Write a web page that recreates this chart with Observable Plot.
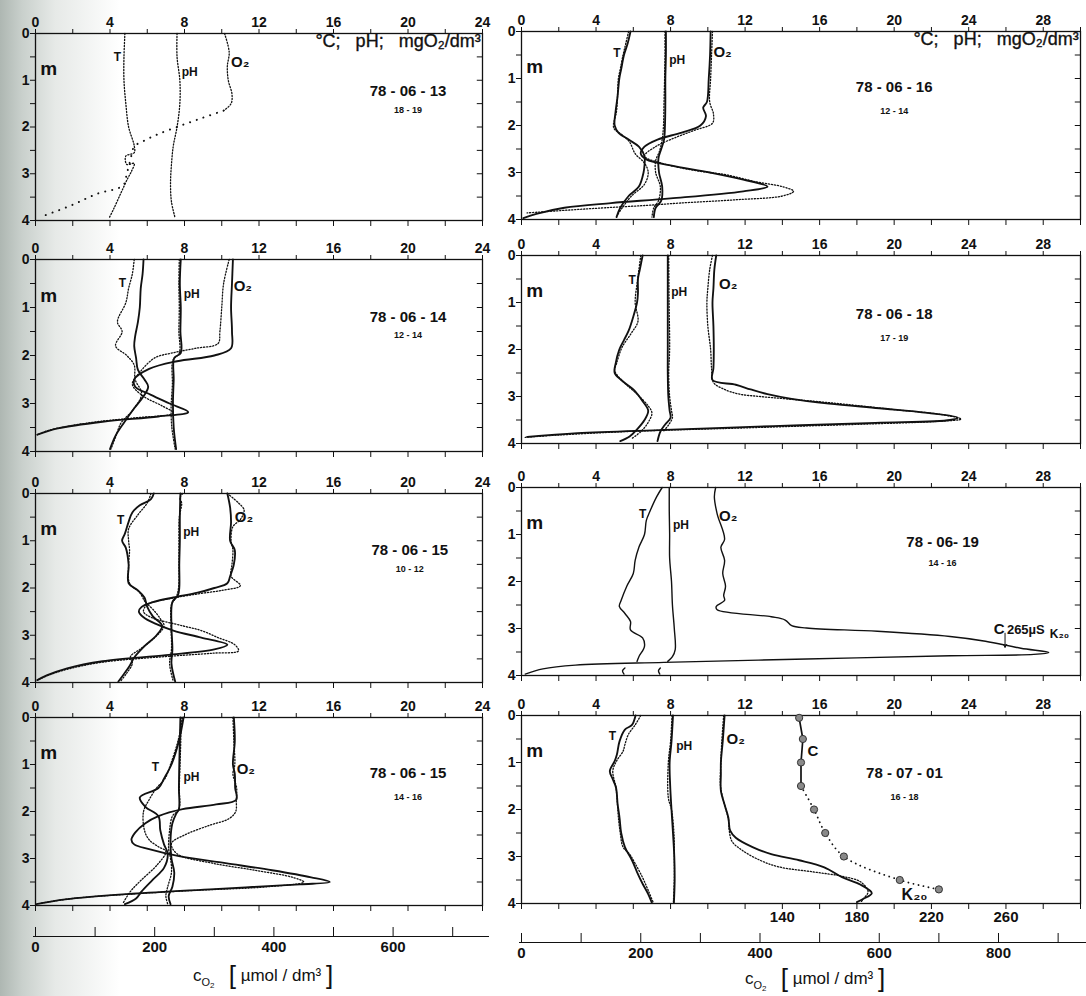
<!DOCTYPE html>
<html><head><meta charset="utf-8">
<script src="https://cdn.jsdelivr.net/npm/d3@7"></script>
<script src="https://cdn.jsdelivr.net/npm/@observablehq/plot@0.6"></script>
<style>
body{margin:0;background:#fff;}
#page{position:relative;width:1086px;height:996px;overflow:hidden;background:#fff;font-family:"Liberation Sans",Arial,sans-serif;}
#shade{position:absolute;left:0;top:0;width:140px;height:996px;background:linear-gradient(to right,#aeb7b2 0px,#c9d0cc 22px,#e6e9e7 55px,rgba(255,255,255,0) 120px);}
.ttl{position:absolute;font-size:17px;color:#111;white-space:nowrap;line-height:26px;height:30px;}
.ttl sub{font-size:11px;vertical-align:-5px;line-height:0;}
.ttl sub sub{font-size:8px;vertical-align:-2px;}
.ttl .br{font-size:26px;font-weight:300;vertical-align:-3px;line-height:0;}
</style></head>
<body><div id="page"><div id="shade"></div></div>
<script>
// ---------- data: [value (°C / pH / mg O2 dm-3), depth (m)] ----------
const L1_T_dot = [[4.8,0],[4.75,0.5],[4.75,1],[4.85,1.5],[5.0,2.0],[5.3,2.4],[5.3,2.55],[4.85,2.62],[4.9,2.8],[5.3,2.78],[5.15,2.95],[4.95,3.1],[4.6,3.4],[4.2,3.75],[3.95,3.95]];
const L1_pH_dot = [[7.6,0],[7.6,0.5],[7.75,1],[7.75,1.5],[7.6,2],[7.4,2.4],[7.3,2.8],[7.25,3.2],[7.3,3.6],[7.5,3.95]];
const L1_O2_dot = [[10.15,0],[10.4,0.4],[10.3,0.7],[10.35,1.0],[10.55,1.3],[10.5,1.5],[10.1,1.65]];
const L1_O2_sparse = [[10.1,1.65],[9.0,1.8],[7.8,1.97],[6.6,2.15],[5.8,2.3],[5.3,2.42],[5.1,2.7],[4.9,3.0],[4.7,3.25],[3.3,3.43],[1.9,3.68],[0.3,3.92]];

const L2_T = [[5.8,0],[5.75,0.3],[5.65,0.6],[5.6,1.0],[5.5,1.3],[5.35,1.6],[5.3,1.8],[5.4,2.05],[5.5,2.3],[5.85,2.5],[6.05,2.65],[5.8,2.85],[5.3,3.1],[4.75,3.4],[4.3,3.67],[4.0,3.95]];
const L2_T_dot = [[5.3,0],[5.2,0.3],[5.0,0.6],[4.85,0.9],[4.4,1.3],[4.65,1.5],[4.3,1.8],[4.9,2.0],[5.3,2.2],[5.35,2.5],[5.7,2.8],[5.2,3.15],[4.6,3.4],[4.3,3.7],[4.05,3.95]];
const L2_pH = [[7.8,0],[7.75,0.5],[7.8,1.0],[7.78,1.5],[7.8,1.95],[7.45,2.05],[7.42,2.5],[7.38,3.0],[7.42,3.5],[7.55,3.95]];
const L2_pH_dot = [[7.72,0],[7.7,0.5],[7.72,1.0],[7.7,1.5],[7.72,1.95],[7.38,2.1],[7.35,2.6],[7.28,3.1],[7.32,3.5],[7.5,3.95]];
const L2_O2 = [[10.6,0],[10.55,0.5],[10.5,1.0],[10.55,1.5],[10.5,1.85],[9.6,2.0],[7.6,2.12],[6.1,2.28],[5.3,2.5],[5.35,2.65],[6.2,2.82],[7.2,3.0],[8.2,3.18],[6.6,3.27],[3.6,3.38],[1.2,3.52],[0.1,3.65]];
const L2_O2_dot = [[10.4,0],[10.1,0.5],[10.0,1.0],[9.9,1.5],[9.8,1.75],[8.6,1.85],[7.3,1.95],[6.4,2.05],[5.6,2.35],[5.2,2.6],[5.8,2.85],[6.8,3.05],[7.4,3.2],[5.3,3.3],[3.3,3.38],[1.8,3.47],[0.7,3.56],[0.1,3.65]];

const L3_T = [[6.35,0],[6.2,0.12],[5.6,0.25],[5.2,0.4],[5.0,0.6],[4.8,0.85],[4.65,1.0],[4.85,1.15],[5.0,1.5],[5.0,1.9],[5.5,2.05],[5.85,2.2],[6.0,2.4],[6.3,2.6],[6.8,2.8],[6.5,3.0],[5.8,3.25],[5.3,3.47],[5.05,3.65],[4.75,3.82],[4.45,3.98]];
const L3_T_dot = [[6.2,0],[6.0,0.2],[5.5,0.45],[5.0,0.75],[5.0,1.0],[5.05,1.2],[5.0,1.5],[5.05,1.9],[5.6,2.1],[5.9,2.3],[6.3,2.45],[6.7,2.65],[6.9,2.8],[6.4,3.05],[5.6,3.3],[5.1,3.45],[5.2,3.6],[4.9,3.8],[4.55,3.98]];
const L3_pH = [[7.78,0],[7.75,0.5],[7.75,1.0],[7.72,1.5],[7.72,2.0],[7.65,2.15],[7.35,2.3],[7.3,2.8],[7.35,3.3],[7.3,3.6],[7.5,3.98]];
const L3_pH_dot = [[7.9,0],[7.75,0.1],[7.85,0.2],[7.72,0.5],[7.7,1.0],[7.7,1.5],[7.68,2.0],[7.55,2.2],[7.3,2.35],[7.28,2.8],[7.3,3.3],[7.2,3.6],[7.4,3.98]];
const L3_O2 = [[10.3,0],[10.45,0.3],[10.5,0.6],[10.45,1.0],[10.7,1.2],[10.65,1.5],[10.45,1.75],[10.3,1.9],[9.6,2.0],[8.7,2.1],[7.4,2.2],[6.3,2.3],[5.7,2.4],[5.55,2.5],[5.8,2.62],[6.4,2.75],[7.4,2.9],[8.9,3.05],[10.3,3.2],[9.6,3.3],[7.0,3.42],[3.6,3.55],[1.7,3.7],[0.6,3.85],[0.1,3.95]];
const L3_O2_dot = [[10.3,0],[10.9,0.2],[11.2,0.35],[11.0,0.55],[10.6,0.7],[10.5,1.0],[10.6,1.2],[10.55,1.5],[10.5,1.75],[11.0,1.95],[10.0,2.05],[8.8,2.12],[7.3,2.22],[6.0,2.35],[5.8,2.5],[6.2,2.62],[7.9,2.8],[8.9,2.9],[9.8,3.05],[10.7,3.2],[10.9,3.33],[9.5,3.38],[7.0,3.45],[3.6,3.57],[1.7,3.72],[0.6,3.86],[0.1,3.95]];

const L4_T = [[7.95,0],[7.7,0.5],[7.3,1.0],[6.9,1.3],[6.6,1.5],[5.6,1.7],[5.9,1.9],[6.6,2.1],[6.7,2.4],[6.9,2.7],[7.1,2.9],[6.9,3.2],[6.3,3.45],[5.7,3.7],[5.4,3.85],[4.8,3.97]];
const L4_T_dot = [[7.9,0],[7.65,0.5],[7.25,1.0],[6.95,1.3],[6.5,1.5],[6.1,1.75],[5.8,2.0],[5.85,2.4],[6.1,2.6],[6.6,2.75],[7.0,2.85],[6.5,3.15],[5.7,3.45],[5.1,3.7],[4.7,3.95]];
const L4_pH = [[7.78,0],[7.75,0.5],[7.72,1.0],[7.7,1.5],[7.7,1.95],[7.55,2.05],[7.35,2.25],[7.25,2.6],[7.3,3.0],[7.45,3.3],[7.35,3.6],[7.15,3.8],[7.25,3.97]];
const L4_pH_dot = [[7.82,0],[7.8,0.5],[7.76,1.0],[7.72,1.5],[7.7,1.95],[7.35,2.1],[7.2,2.4],[7.15,2.8],[7.25,3.0],[7.3,3.3],[7.1,3.6],[7.0,3.8],[7.1,3.97]];
const L4_O2 = [[10.65,0],[10.7,0.5],[10.6,1.0],[10.7,1.2],[10.72,1.5],[10.78,1.75],[9.7,1.85],[7.9,1.95],[6.6,2.1],[5.9,2.25],[5.35,2.45],[5.15,2.6],[5.3,2.7],[6.1,2.8],[7.7,2.95],[10.2,3.1],[12.7,3.25],[14.8,3.4],[15.8,3.5],[14.2,3.55],[9.6,3.65],[5.2,3.75],[1.6,3.87],[0.05,3.97]];
const L4_O2_dot = [[10.6,0],[10.65,0.5],[10.7,1.0],[10.6,1.2],[10.8,1.5],[10.78,1.75],[10.75,2.0],[10.4,2.15],[9.3,2.3],[8.0,2.5],[7.3,2.68],[7.6,2.9],[9.5,3.1],[11.8,3.25],[13.8,3.4],[14.4,3.5],[12.5,3.6],[8.5,3.68],[5.0,3.76],[2.0,3.85],[0.3,3.95]];

const R1_T = [[5.85,0],[5.7,0.25],[5.5,0.5],[5.35,0.8],[5.25,1.0],[5.15,1.4],[5.05,1.7],[5.0,2.0],[5.2,2.15],[5.75,2.3],[6.3,2.45],[6.6,2.65],[6.6,2.85],[6.55,3.0],[6.3,3.3],[5.75,3.5],[5.3,3.75],[5.1,3.95]];
const R1_T_dot = [[5.75,0],[5.6,0.25],[5.45,0.5],[5.3,0.8],[5.2,1.0],[5.15,1.4],[5.1,1.7],[4.95,2.05],[5.4,2.2],[5.8,2.35],[6.1,2.6],[6.6,2.8],[6.8,3.0],[6.6,3.25],[5.9,3.5],[5.5,3.7],[5.15,3.9]];
const R1_pH = [[7.75,0],[7.75,0.5],[7.72,1.0],[7.72,1.5],[7.7,2.0],[7.65,2.3],[7.5,2.5],[7.35,2.7],[7.38,3.0],[7.55,3.3],[7.5,3.6],[7.2,3.75],[7.1,3.95]];
const R1_pH_dot = [[7.7,0],[7.7,0.5],[7.68,1.0],[7.65,1.5],[7.62,2.0],[7.55,2.3],[7.4,2.55],[7.2,2.75],[7.2,3.0],[7.45,3.3],[7.35,3.6],[7.1,3.75],[7.0,3.95]];
const R1_O2 = [[10.15,0],[10.12,0.5],[10.05,1.0],[9.95,1.5],[9.75,1.62],[9.9,1.8],[9.6,2.0],[8.6,2.15],[7.3,2.3],[6.6,2.45],[6.4,2.6],[6.7,2.72],[8.0,2.85],[10.1,3.0],[11.9,3.15],[13.2,3.3],[11.9,3.4],[8.0,3.55],[4.8,3.65],[2.3,3.75],[0.8,3.88],[0.1,3.97]];
const R1_O2_dot = [[10.25,0],[10.2,0.5],[10.15,1.0],[10.1,1.5],[10.3,1.75],[10.25,1.95],[9.3,2.1],[8.3,2.25],[7.2,2.45],[6.6,2.65],[7.5,2.8],[9.2,2.95],[11.0,3.05],[12.6,3.2],[14.0,3.3],[14.6,3.4],[14.0,3.5],[11.5,3.58],[8.5,3.65],[6.7,3.7],[4.5,3.75],[2.5,3.8],[0.3,3.86]];

const R2_T = [[6.5,0],[6.35,0.3],[6.25,0.5],[6.25,0.8],[6.2,1.0],[6.0,1.3],[5.75,1.6],[5.5,1.8],[5.25,2.0],[5.05,2.3],[5.0,2.5],[5.35,2.65],[6.0,2.85],[6.5,3.1],[6.8,3.3],[6.6,3.5],[6.2,3.7],[5.8,3.85],[5.3,3.95]];
const R2_T_dot = [[6.4,0],[6.3,0.3],[6.2,0.6],[6.1,1.0],[6.25,1.4],[5.9,1.65],[5.4,1.95],[5.1,2.3],[5.0,2.45],[5.5,2.7],[6.2,2.95],[6.8,3.2],[7.0,3.35],[6.8,3.55],[6.4,3.75],[5.9,3.9]];
const R2_pH = [[7.85,0],[7.85,0.5],[7.85,1.0],[7.85,1.5],[7.85,2.0],[7.85,2.5],[7.88,3.0],[7.95,3.3],[8.0,3.45],[7.7,3.6],[7.45,3.75],[7.3,3.95]];
const R2_pH_dot = [[7.9,0],[7.92,1.0],[7.95,2.0],[7.9,2.5],[7.95,3.0],[8.05,3.3],[8.1,3.45],[7.9,3.6],[7.6,3.75]];
const R2_O2 = [[10.45,0],[10.35,0.3],[10.3,0.7],[10.25,1.0],[10.3,1.5],[10.32,2.0],[10.3,2.4],[10.25,2.65],[11.5,2.75],[12.3,2.85],[13.2,2.95],[14.5,3.05],[16.5,3.15],[19.2,3.25],[21.8,3.35],[23.4,3.45],[23.0,3.5],[19.0,3.56],[13.5,3.63],[7.7,3.71],[3.0,3.78],[0.3,3.86]];
const R2_O2_dot = [[10.25,0],[10.1,0.3],[10.0,0.7],[9.95,1.0],[10.0,1.5],[10.15,2.0],[10.2,2.4],[10.3,2.7],[10.9,2.85],[11.7,2.95],[12.8,3.0],[14.2,3.05],[17,3.15],[20,3.28],[22.5,3.38],[23.6,3.48],[22.3,3.53],[19.0,3.58],[15,3.63],[11,3.68],[6,3.74],[2,3.82],[0.2,3.87]];

const R3_T = [[7.55,0],[7.25,0.2],[6.9,0.5],[6.7,0.7],[6.6,1.0],[6.3,1.27],[6.1,1.55],[6.0,1.83],[5.65,2.1],[5.35,2.4],[5.25,2.53],[5.55,2.68],[5.85,2.85],[5.85,3.03],[6.5,3.2],[6.6,3.38],[6.3,3.6],[6.2,3.7]];
const R3_T_tail = [[5.55,3.84],[5.42,3.9],[5.5,3.97]];
const R3_pH = [[7.93,0],[7.93,0.5],[7.95,1.0],[7.95,1.5],[8.05,2.0],[8.1,2.5],[8.2,3.0],[8.25,3.45],[8.1,3.6],[7.85,3.7]];
const R3_pH_tail = [[7.45,3.84],[7.35,3.9],[7.42,3.97]];
const R3_O2 = [[10.42,0],[10.35,0.2],[10.5,0.56],[10.9,1.1],[10.7,1.27],[10.9,1.55],[10.8,1.83],[10.95,2.1],[10.85,2.3],[10.9,2.4],[10.45,2.53],[10.5,2.6],[13.4,2.75],[14.15,2.82],[14.5,2.94],[15.3,2.99],[19.1,3.06],[23.0,3.17],[24.9,3.27],[26.8,3.42],[28.3,3.51],[27.5,3.55],[23.0,3.58],[15.3,3.65],[7.65,3.72],[2.9,3.78],[1.15,3.86],[0.2,3.97]];

const R4_T = [[6.12,0],[5.93,0.2],[5.55,0.3],[5.26,0.55],[5.12,0.83],[5.0,0.97],[4.74,1.18],[4.88,1.34],[5.07,1.53],[5.16,1.89],[5.26,2.17],[5.35,2.5],[5.55,2.8],[5.93,3.08],[6.2,3.33],[6.5,3.58],[6.8,3.8],[7.0,3.99]];
const R4_T_dot = [[6.4,0],[6.1,0.2],[5.74,0.4],[5.55,0.62],[5.45,0.76],[5.1,0.97],[4.9,1.18],[5.07,1.53],[5.15,1.89],[5.2,2.17],[5.3,2.5],[5.45,2.8],[5.8,2.95],[6.1,3.15],[6.5,3.45],[6.8,3.72],[7.07,3.98]];
const R4_pH = [[8.13,0],[8.05,0.55],[7.95,1.0],[7.98,1.5],[8.05,2.0],[8.13,2.5],[8.2,3.0],[8.22,3.5],[8.18,3.99]];
const R4_pH_dot = [[8.08,0],[8.0,0.55],[7.88,1.0],[7.88,1.75],[8.05,2.0],[8.18,2.5],[8.2,3.0],[8.2,3.5],[8.15,3.99]];
const R4_O2 = [[10.9,0],[10.8,0.55],[10.7,1.0],[10.7,1.25],[10.7,1.6],[10.9,1.9],[11.1,2.17],[11.2,2.45],[11.5,2.6],[12.4,2.8],[13.4,2.95],[14.9,3.08],[16.25,3.23],[17.2,3.44],[18.2,3.6],[18.8,3.78],[18.35,3.9],[18.0,3.97]];
const R4_O2_dot = [[10.85,0],[10.75,0.55],[10.7,1.0],[10.68,1.5],[10.9,1.9],[11.1,2.2],[11.15,2.45],[11.3,2.68],[11.85,2.87],[12.8,3.08],[13.8,3.22],[15.7,3.33],[17.2,3.42],[18.2,3.54],[18.6,3.75],[18.35,3.9],[18.2,3.98]];

// conductivity C (µS, K20) in 78-07-01
const C_depth = [0.05, 0.5, 1.0, 1.5, 2.0, 2.5, 3.0, 3.5, 3.7];
const C_uS = [149, 151, 150, 150, 157, 163, 173, 203, 224];
const C_ticks = [140, 180, 220, 260];

// c_O2 axis (µmol/dm3); 1 mg O2/dm3 = 31.25 µmol/dm3
const cO2_left_ticks = [0,100,200,300,400,500,600,700];
const cO2_right_ticks = [0,100,200,300,400,500,600,700,800,900];
const cO2_left_labels = [0,200,400,600];
const cO2_right_labels = [0,200,400,600,800];

// panel text
const dates = [["L1","78 - 06 - 13","18 - 19",20.0,1.24,1.64],["L2","78 - 06 - 14","12 - 14",20.0,1.21,1.58],
  ["L3","78 - 06 - 15","10 - 12",20.1,1.2,1.59],["L4","78 - 06 - 15","14 - 16",20.0,1.19,1.7],
  ["R1","78 - 06 - 16","12 - 14",20.0,1.19,1.7],["R2","78 - 06 - 18","17 - 19",20.0,1.24,1.76],
  ["R3","78 - 06- 19","14 - 16",22.6,1.16,1.6],["R4","78 - 07 - 01","16 - 18",20.55,1.22,1.73]];
const lineLabels = [
  ["L1","T",4.2,0.5],["L1","pH",7.85,0.83],["L1","O₂",10.5,0.61],
  ["L2","T",4.47,0.49],["L2","pH",7.96,0.73],["L2","O₂",10.64,0.55],
  ["L3","T",4.38,0.57],["L3","pH",7.93,0.82],["L3","O₂",10.7,0.5],
  ["L4","T",6.24,1.06],["L4","pH",7.94,1.27],["L4","O₂",10.8,1.1],
  ["R1","T",4.93,0.46],["R1","pH",7.93,0.6],["R1","O₂",10.3,0.45],
  ["R2","T",5.74,0.53],["R2","pH",8.03,0.78],["R2","O₂",10.6,0.6],
  ["R3","T",6.3,0.56],["R3","pH",8.13,0.8],["R3","O₂",10.6,0.6],
  ["R4","T",4.68,0.44],["R4","pH",8.3,0.66],["R4","O₂",11.0,0.5]];
const unitText = "°C;\u00a0\u00a0\u00a0pH;\u00a0\u00a0\u00a0mgO₂/dm³";
const notes = [["R3","C",25.35,3.02,15],["R3","265µS",26.05,3.02,13],["R3","K₂₀",28.35,3.13,12],
               ["R4","C",15.35,0.76,15],["R4","K₂₀",20.4,3.82,16]];
const arrows = [["R3",25.95,3.1,3.4]];

// ---------- layout ----------
const cols = [{left:35,right:482,xmax:24,mr:14},{left:521,right:1080,xmax:30,mr:6}];
const panels = [
  {id:"L1",col:0,top:33,bottom:220},{id:"L2",col:0,top:259,bottom:451},
  {id:"L3",col:0,top:493,bottom:682},{id:"L4",col:0,top:717,bottom:905},
  {id:"R1",col:1,top:31,bottom:219},{id:"R2",col:1,top:255,bottom:443},
  {id:"R3",col:1,top:487,bottom:675},{id:"R4",col:1,top:715,bottom:903}];
const series = [
  ["L1",L1_T_dot,"dot"],["L1",L1_pH_dot,"dot"],["L1",L1_O2_dot,"dot"],["L1",L1_O2_sparse,"sparse"],
  ["L2",L2_T,"solid"],["L2",L2_T_dot,"dot"],["L2",L2_pH,"solid"],["L2",L2_pH_dot,"dot"],["L2",L2_O2,"solid"],["L2",L2_O2_dot,"dot"],
  ["L3",L3_T,"solid"],["L3",L3_T_dot,"dot"],["L3",L3_pH,"solid"],["L3",L3_pH_dot,"dot"],["L3",L3_O2,"solid"],["L3",L3_O2_dot,"dot"],
  ["L4",L4_T,"solid"],["L4",L4_T_dot,"dot"],["L4",L4_pH,"solid"],["L4",L4_pH_dot,"dot"],["L4",L4_O2,"solid"],["L4",L4_O2_dot,"dot"],
  ["R1",R1_T,"solid"],["R1",R1_T_dot,"dot"],["R1",R1_pH,"solid"],["R1",R1_pH_dot,"dot"],["R1",R1_O2,"solid"],["R1",R1_O2_dot,"dot"],
  ["R2",R2_T,"solid"],["R2",R2_T_dot,"dot"],["R2",R2_pH,"solid"],["R2",R2_pH_dot,"dot"],["R2",R2_O2,"solid"],["R2",R2_O2_dot,"dot"],
  ["R3",R3_T,"thin"],["R3",R3_T_tail,"thin"],["R3",R3_pH,"thin"],["R3",R3_pH_tail,"thin"],["R3",R3_O2,"thin"],
  ["R4",R4_T,"solid"],["R4",R4_T_dot,"dot"],["R4",R4_pH,"solid"],["R4",R4_pH_dot,"dot"],["R4",R4_O2,"solid"],["R4",R4_O2_dot,"dot"]];
const lineStyle = {
  solid:{strokeWidth:1.85},
  thin:{strokeWidth:1.4},
  dot:{strokeWidth:1.3,strokeDasharray:"1.2,1.8"},
  sparse:{strokeWidth:2,strokeDasharray:"0.1,7",strokeLinecap:"round"}};

const page = document.getElementById("page");
const baseStyle = {background:"transparent",fontFamily:"'Liberation Sans',Arial,sans-serif",fontWeight:"bold",color:"#111"};
const ink = "#111";

function place(svg, left, top) {
  svg.style.position = "absolute";
  svg.style.left = left + "px";
  svg.style.top = top + "px";
  page.appendChild(svg);
}

for (const p of panels) {
  const col = cols[p.col];
  const ml = 28, mr = col.mr, mt = 22, mb = p.id === "R4" ? 34 : 12;
  const width = col.right - col.left + ml + mr;
  const height = p.bottom - p.top + mt + mb;
  const xTicks = d3.range(0, col.xmax + 0.01, 2);
  const yTicks = d3.range(0, 4.01, 0.5);
  const marks = [
    Plot.axisY({ticks: yTicks, tickSize: 5, tickPadding: 1, fontSize: 14, label: null,
      tickFormat: d => Number.isInteger(d) ? String(d) : ""}),
    Plot.axisX({anchor: "top", ticks: xTicks, tickSize: 5, tickPadding: 2, fontSize: 14, label: null,
      tickFormat: d => d % 4 === 0 ? String(d) : ""}),
    Plot.axisX({anchor: "bottom", ticks: xTicks, tickSize: 6, label: null, tickFormat: () => ""}),
    Plot.ruleY(yTicks, {y: d => d, x1: col.xmax - 0.28, x2: col.xmax, stroke: ink}),
    Plot.frame({stroke: ink, strokeWidth: 1.3})
  ];
  for (const [id, data, kind] of series) {
    if (id !== p.id) continue;
    marks.push(Plot.line(data, {x: d => d[0], y: d => d[1], curve: "catmull-rom", stroke: ink, ...lineStyle[kind]}));
  }
  if (p.id === "R4") {
    const rows = C_depth.map((d, i) => ({depth: d, c: C_uS[i]}));
    marks.push(Plot.line(rows.slice(0, 4), {x: d => d.c / 10, y: "depth", stroke: ink, strokeWidth: 1.7}));
    marks.push(Plot.line(rows.slice(3), {x: d => d.c / 10, y: "depth", curve: "catmull-rom", stroke: ink, strokeWidth: 1.8, strokeDasharray: "0.1,5", strokeLinecap: "round"}));
    marks.push(Plot.dot(rows, {x: d => d.c / 10, y: "depth", r: 3.6, fill: "#8a8a8a", stroke: "#333", strokeWidth: 1}));
    marks.push(Plot.axisX({anchor: "bottom", ticks: C_ticks.map(c => c / 10), tickSize: 0, tickPadding: 8, fontSize: 15, label: null,
      tickFormat: d => String(Math.round(d * 10))}));
  }
  const ll = lineLabels.filter(d => d[0] === p.id);
  marks.push(Plot.text(ll.filter(d => d[1] !== "O₂"), {x: d => d[2], y: d => d[3], text: d => d[1], textAnchor: "start", fontSize: 12, fill: ink}));
  marks.push(Plot.text(ll.filter(d => d[1] === "O₂"), {x: d => d[2], y: d => d[3], text: d => d[1], textAnchor: "start", fontSize: 15, fill: ink}));
  marks.push(Plot.text([0], {x: 0.25, y: 0.75, text: () => "m", textAnchor: "start", fontSize: 19, fill: ink}));
  const dt = dates.filter(d => d[0] === p.id);
  marks.push(Plot.text(dt, {x: d => d[3], y: d => d[4], text: d => d[1], fontSize: 15, fill: ink}));
  marks.push(Plot.text(dt, {x: d => d[3], y: d => d[5], text: d => d[2], fontSize: 9, fill: ink}));
  if (p.id === "L1" || p.id === "R1") {
    marks.push(Plot.text([unitText], {x: col.xmax - 0.1, y: 0.17, text: d => d, textAnchor: "end", fontSize: 18, fontWeight: "normal", fill: ink, stroke: ink, strokeWidth: 0.35}));
  }
  const nt = notes.filter(d => d[0] === p.id);
  for (const n of nt) marks.push(Plot.text([n], {x: d => d[2], y: d => d[3], text: d => d[1], textAnchor: "start", fontSize: n[4], fill: ink}));
  const ar = arrows.filter(d => d[0] === p.id);
  marks.push(Plot.arrow(ar, {x1: d => d[1], x2: d => d[1], y1: d => d[2], y2: d => d[3], stroke: ink, strokeWidth: 1, headLength: 5}));

  const svg = Plot.plot({width, height, marginLeft: ml, marginRight: mr, marginTop: mt, marginBottom: mb,
    x: {domain: [0, col.xmax]}, y: {domain: [0, 4], reverse: true},
    style: baseStyle, marks});
  place(svg, col.left - ml, p.top - mt);
}

// c_O2 axes below the columns
function cO2Axis(col, ticks, labels, baseline, ext) {
  const ml = 28, mr = col.mr, mt = 14, mb = 24;
  const svg = Plot.plot({width: col.right - col.left + ml + mr, height: mt + mb, marginLeft: ml, marginRight: mr, marginTop: mt, marginBottom: mb,
    x: {domain: [0, col.xmax]}, y: {axis: null}, style: baseStyle,
    marks: [
      Plot.ruleY([0], {stroke: ink, strokeWidth: 1.2, insetRight: -ext, insetLeft: -2}),
      Plot.axisX({anchor: "top", ticks: ticks.map(v => v / 31.25), tickSize: 10, label: null, tickFormat: () => ""}),
      Plot.axisX({anchor: "bottom", ticks: labels.map(v => v / 31.25), tickSize: 0, tickPadding: 5, fontSize: 15, label: null,
        tickFormat: d => String(Math.round(d * 31.25))})
    ]});
  place(svg, col.left - ml, baseline - mt);
}
cO2Axis(cols[0], cO2_left_ticks, cO2_left_labels, 936, 7);
cO2Axis(cols[1], cO2_right_ticks, cO2_right_labels, 942, 6);

function title(left, top) {
  const d = document.createElement("div");
  d.className = "ttl";
  d.style.left = left + "px"; d.style.top = top + "px";
  d.innerHTML = 'c<sub>O<sub>2</sub></sub>&nbsp;&nbsp;&nbsp;<span class="br">[</span> µmol / dm³ <span class="br">]</span>';
  page.appendChild(d);
}
title(193, 963);
title(745, 966);
</script>
</body></html>
